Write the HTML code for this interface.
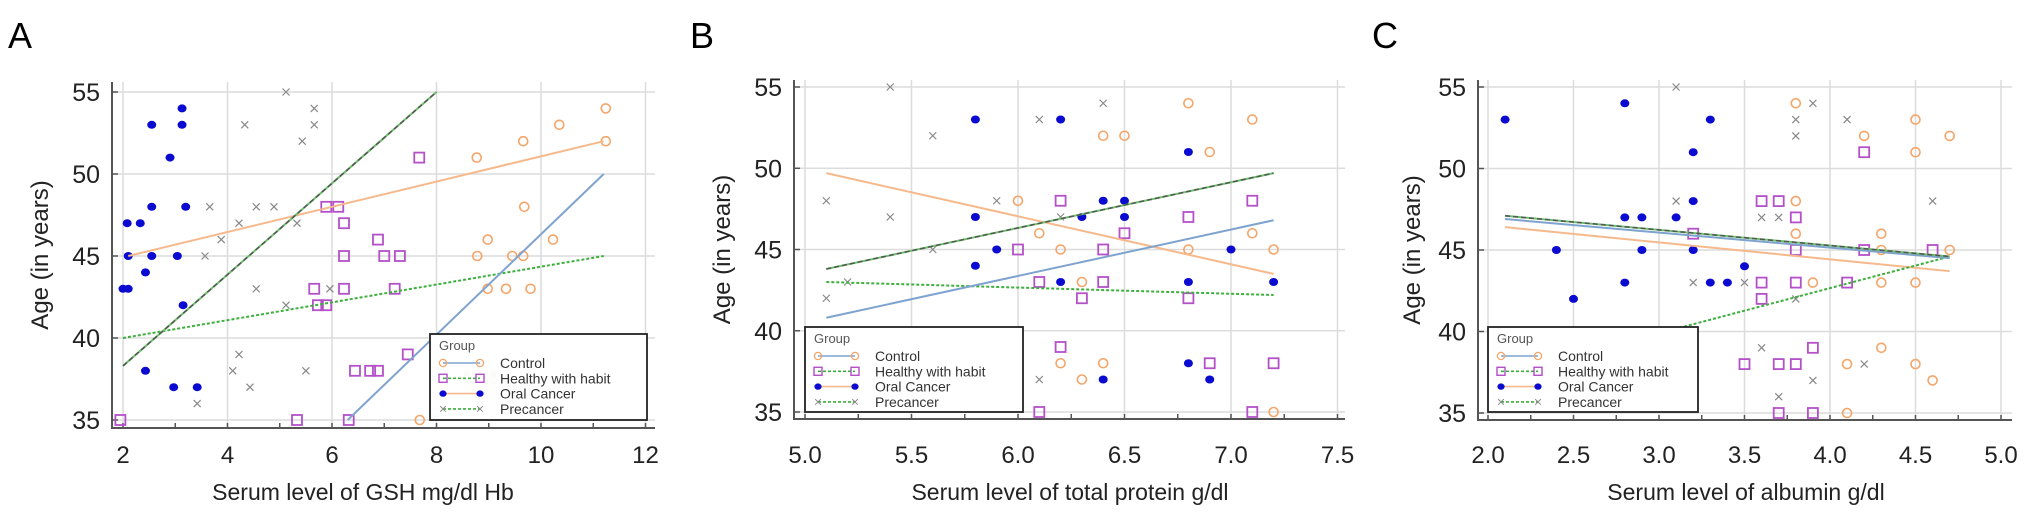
<!DOCTYPE html>
<html><head><meta charset="utf-8"><style>
html,body{margin:0;padding:0;background:#fff;}
svg{display:block;font-family:"Liberation Sans",Arial,sans-serif;}
</style></head><body>
<svg id="chart" width="2032" height="520" viewBox="0 0 2032 520" xmlns="http://www.w3.org/2000/svg"></svg>
<script>
// ---------- Panel A data ----------
const aControlX=[11.24,10.35,9.66,11.24,8.77,9.68,8.98,10.23,8.78,9.45,9.66,8.98,9.33,9.8,7.68];
const aControlY=[54,53,52,52,51,48,46,46,45,45,45,43,43,43,35];
const aHealthyX=[7.67,5.89,6.12,6.23,6.88,6.23,7.0,7.3,5.66,6.23,7.2,5.73,5.89,7.45,6.44,6.73,6.88,5.33,6.32,1.95];
const aHealthyY=[51,48,48,47,46,45,45,45,43,43,43,42,42,39,38,38,38,35,35,35];
const aOralX=[3.13,2.55,3.13,2.9,2.55,3.2,2.08,2.33,2.1,2.55,3.04,2.43,2.0,2.1,3.15,2.43,2.97,3.42];
const aOralY=[54,53,53,51,48,48,47,47,45,45,45,44,43,43,42,38,37,37];
const aPreX=[5.12,5.66,5.66,4.33,5.43,3.66,4.55,4.89,4.22,5.33,3.88,3.57,4.55,5.96,5.12,4.22,4.1,5.5,4.43,3.42];
const aPreY=[55,54,53,53,52,48,48,48,47,47,46,45,43,43,42,39,38,38,37,36];
const aFitControl=[2.1,45,11.2,52];
const aFitHealthy=[2.0,40,11.2,45];
const aFitOral=[6.3,35,11.2,50];
const aFitPre=[2.0,38.3,8.0,55];
const aXTicks=[2,4,6,8,10,12];
// ---------- Panel B data ----------
const bControlX=[6.0,6.1,6.2,6.3,6.2,6.3,6.8,6.4,6.5,6.9,7.1,7.1,6.8,7.2,7.2,6.4];
const bControlY=[48,46,45,43,38,37,54,52,52,51,53,46,45,45,35,38];
const bHealthyX=[6.2,6.0,6.1,6.3,6.2,6.1,6.8,6.5,6.4,7.1,6.4,6.8,6.9,7.2,7.1];
const bHealthyY=[48,45,43,42,39,35,47,46,45,48,43,42,38,38,35];
const bOralX=[5.8,6.2,5.8,5.9,5.8,6.2,6.3,6.4,6.5,6.5,6.8,7.0,6.8,7.2,6.8,6.9,6.4];
const bOralY=[53,53,47,45,44,43,47,48,48,47,51,45,43,43,38,37,37];
const bPreX=[5.4,6.1,5.6,5.1,5.9,5.4,5.6,5.1,6.1,5.2,6.2,6.4];
const bPreY=[55,53,52,48,48,47,45,42,37,43,47,54];
const bFitControl=[5.1,49.7,7.2,43.5];
const bFitHealthy=[5.1,43,7.2,42.2];
const bFitOral=[5.1,40.8,7.2,46.8];
const bFitPre=[5.1,43.8,7.2,49.7];
const bXTicks=["5.0","5.5","6.0","6.5","7.0","7.5"];
// ---------- Panel C data ----------
const cControlX=[3.8,4.5,4.2,4.7,4.5,3.8,3.8,4.3,4.3,4.7,3.9,4.3,4.5,4.3,4.1,4.5,4.6,4.1];
const cControlY=[54,53,52,52,51,48,46,46,45,45,43,43,43,39,38,38,37,35];
const cHealthyX=[4.2,3.6,3.7,3.8,3.8,4.2,4.6,3.6,3.8,4.1,3.6,3.9,3.5,3.7,3.8,3.7,3.9,3.2];
const cHealthyY=[51,48,48,47,45,45,45,43,43,43,42,39,38,38,38,35,35,46];
const cOralX=[2.1,2.8,3.3,3.2,3.2,2.8,2.9,3.1,2.4,2.9,3.2,2.8,3.3,2.5,3.4,3.5];
const cOralY=[53,54,53,51,48,47,47,47,45,45,45,43,43,42,43,44];
const cPreX=[3.1,3.1,3.2,3.9,3.8,4.1,3.8,4.6,3.6,3.7,3.5,3.8,3.6,4.2,3.9,3.7];
const cPreY=[55,48,43,54,53,53,52,48,47,47,43,42,39,38,37,36];
const cFitControl=[2.1,46.4,4.7,43.7];
const cFitHealthy=[2.1,37.4,4.7,44.6];
const cFitOral=[2.1,46.9,4.7,44.5];
const cFitPre=[2.1,47.1,4.7,44.6];
const cXTicks=["2.0","2.5","3.0","3.5","4.0","4.5","5.0"];
const yTicks=[35,40,45,50,55];

const NS="http://www.w3.org/2000/svg";
const svg=document.getElementById('chart');
function mk(tag,attrs,parent){const e=document.createElementNS(NS,tag);for(const k in attrs)e.setAttribute(k,attrs[k]);(parent||svg).appendChild(e);return e;}

const panels=[
 {id:'a',letter:'A',letterX:8,x0:2,xpx:123,xs:52.25,y0:35,ypx:420,ys:16.4,left:112,bottom:428,top:82,right:655,
  xt:aXTicks,minor:1,xtitle:'Serum level of GSH mg/dl Hb',xtitleX:363,ytitleX:40,
  ctl:[aControlX,aControlY],hwh:[aHealthyX,aHealthyY],oral:[aOralX,aOralY],pre:[aPreX,aPreY],
  fits:[aFitControl,aFitHealthy,aFitOral,aFitPre],leg:[430,334,217,86]},
 {id:'b',letter:'B',letterX:690,x0:5,xpx:805,xs:213,y0:35,ypx:412,ys:16.25,left:794,bottom:419,top:80,right:1345,
  xt:bXTicks,minor:0.25,xtitle:'Serum level of total protein g/dl',xtitleX:1070,ytitleX:722,
  ctl:[bControlX,bControlY],hwh:[bHealthyX,bHealthyY],oral:[bOralX,bOralY],pre:[bPreX,bPreY],
  fits:[bFitControl,bFitHealthy,bFitOral,bFitPre],leg:[805,327,218,85]},
 {id:'c',letter:'C',letterX:1372,x0:2,xpx:1488,xs:171,y0:35,ypx:413,ys:16.3,left:1478,bottom:420,top:80,right:2012,
  xt:cXTicks,minor:0.25,xtitle:'Serum level of albumin g/dl',xtitleX:1746,ytitleX:1412,
  ctl:[cControlX,cControlY],hwh:[cHealthyX,cHealthyY],oral:[cOralX,cOralY],pre:[cPreX,cPreY],
  fits:[cFitControl,cFitHealthy,cFitOral,cFitPre],leg:[1488,327,210,85]}
];

function circle(g,x,y){const e=mk('circle',{cx:x,cy:y,r:4.5,fill:'none',stroke:'#f4a56a','stroke-width':1.6},g);return e;}
function square(g,x,y){const e=mk('rect',{x:x-5,y:y-5,width:10,height:10,fill:'none',stroke:'#b450c8','stroke-width':1.8},g);return e;}
function dot(g,x,y){const e=mk('ellipse',{cx:x,cy:y,rx:4.5,ry:4,fill:'#0a0ad0'},g);return e;}
function cross(g,x,y){const e=mk('path',{d:`M${x-3.5} ${y-3.5}L${x+3.5} ${y+3.5}M${x-3.5} ${y+3.5}L${x+3.5} ${y-3.5}`,stroke:'#888','stroke-width':1.2},g);return e;}

panels.forEach(p=>{
  const X=v=>p.xpx+(v-p.x0)*p.xs;
  const Y=v=>p.ypx-(v-p.y0)*p.ys;
  const g=mk('g',{});
  
  
  const L=mk('text',{x:p.letterX,y:48,'font-size':36,fill:'#000'},g);L.textContent=p.letter;
  
  
  // grid
  const grid=mk('g',{stroke:'#dcdcdc','stroke-width':1.5},g);
  
  
  p.xt.forEach(t=>{const x=X(parseFloat(t));mk('line',{x1:x,y1:p.top,x2:x,y2:p.bottom},grid);});
  yTicks.forEach(t=>{const y=Y(t);mk('line',{x1:p.left,y1:y,x2:p.right,y2:y},grid);});
  // axes
  const ax=mk('path',{d:`M${p.left} ${p.top}V${p.bottom}H${p.right}`,fill:'none',stroke:'#555','stroke-width':2},g);
  
  
  // ticks
  const tk=mk('g',{stroke:'#555','stroke-width':1.5},g);
  const xa=parseFloat(p.xt[0]),xb=parseFloat(p.xt[p.xt.length-1]);
  for(let v=xa;v<=xb+1e-6;v+=p.minor){const x=X(v);mk('line',{x1:x,y1:p.bottom,x2:x,y2:p.bottom-5},tk);}
  yTicks.forEach(t=>{const y=Y(t);mk('line',{x1:p.left,y1:y,x2:p.left+6,y2:y},tk);});
  p.xt.forEach(t=>{const e=mk('text',{x:X(parseFloat(t)),y:463,'font-size':24,'text-anchor':'middle',fill:'#222'},g);e.textContent=t;
    
    });
  yTicks.forEach(t=>{const e=mk('text',{x:p.left-12,y:Y(t)+9,'font-size':25,'text-anchor':'end',fill:'#222'},g);e.textContent=t;
    
    });
  const xt=mk('text',{x:p.xtitleX,y:500,'font-size':23,'text-anchor':'middle',fill:'#222'},g);xt.textContent=p.xtitle;
  
  
  const yt=mk('text',{x:0,y:0,'font-size':24,'text-anchor':'middle',fill:'#222',transform:`translate(${p.ytitleX+8},${(p.top+p.bottom)/2}) rotate(-90)`},g);yt.textContent='Age (in years)';
  
  
  // points
  const sets=[[p.ctl,circle,'control-point'],[p.hwh,square,'healthy-point'],[p.oral,dot,'oral-cancer-point'],[p.pre,cross,'precancer-point']];
  sets.forEach(([d,fn,nm])=>{d[0].forEach((xv,i)=>{const e=fn(g,X(xv),Y(d[1][i]));
    
    });});
  // fit lines
  const [fc,fh,fo,fp]=p.fits;
  const l1=mk('line',{x1:X(fc[0]),y1:Y(fc[1]),x2:X(fc[2]),y2:Y(fc[3]),stroke:'#f6b98c','stroke-width':2},g);
  
  
  const l2=mk('line',{x1:X(fh[0]),y1:Y(fh[1]),x2:X(fh[2]),y2:Y(fh[3]),stroke:'#3caf3c','stroke-width':2,'stroke-dasharray':'3 2'},g);
  
  
  const l3=mk('line',{x1:X(fo[0]),y1:Y(fo[1]),x2:X(fo[2]),y2:Y(fo[3]),stroke:'#7fa3cf','stroke-width':2},g);
  
  
  const l4a=mk('line',{x1:X(fp[0]),y1:Y(fp[1]),x2:X(fp[2]),y2:Y(fp[3]),stroke:'#6cc06c','stroke-width':2},g);
  const l4=mk('line',{x1:X(fp[0]),y1:Y(fp[1]),x2:X(fp[2]),y2:Y(fp[3]),stroke:'#555','stroke-width':1.5,'stroke-dasharray':'5 3'},g);
  
  
  // legend
  const [lx,ly,lw,lh]=p.leg;
  const lg=mk('g',{},g);
  
  
  mk('rect',{x:lx,y:ly,width:lw,height:lh,fill:'#fff',stroke:'#222','stroke-width':1.8},lg);
  const gt=mk('text',{x:lx+9,y:ly+16,'font-size':13,fill:'#555'},lg);gt.textContent='Group';
  const names=['Control','Healthy with habit','Oral Cancer','Precancer'];
  const lstyles=[['#7fa3cf',''],['#3caf3c','3 2'],['#f6b98c',''],['#3caf3c','3 2']];
  const mfn=[circle,square,dot,cross];
  names.forEach((n,i)=>{
    const yy=ly+29+i*15.3;
    mk('line',{x1:lx+13,y1:yy,x2:lx+50,y2:yy,stroke:lstyles[i][0],'stroke-width':1.6,'stroke-dasharray':lstyles[i][1]},lg);
    const m1=mfn[i](lg,lx+13,yy);m1.setAttribute('transform',`translate(${lx+13},${yy}) scale(0.8) translate(${-(lx+13)},${-yy})`);
    const m2=mfn[i](lg,lx+50,yy);m2.setAttribute('transform',`translate(${lx+50},${yy}) scale(0.8) translate(${-(lx+50)},${-yy})`);
    const t=mk('text',{x:lx+70,y:yy+5,'font-size':14,fill:'#333'},lg);t.textContent=n;
    
    
  });
});
</script>
</body></html>
